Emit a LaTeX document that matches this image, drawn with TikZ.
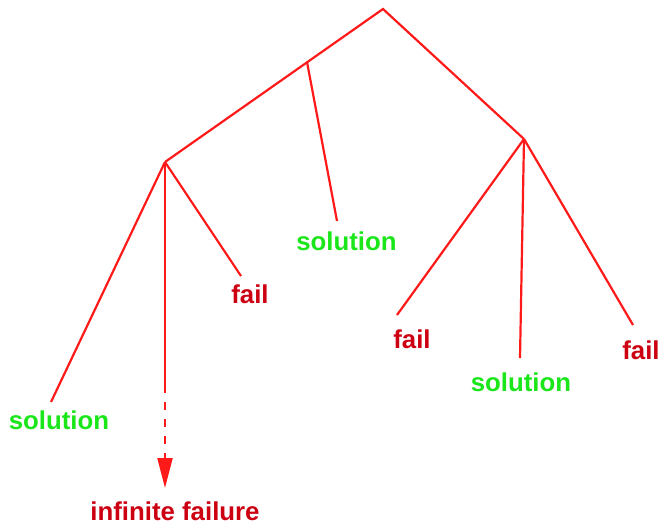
\documentclass[tikz,border=0pt]{standalone}
\usepackage{fontspec}
\setmainfont{Liberation Sans}
\usetikzlibrary{arrows.meta}
\definecolor{branchred}{HTML}{FF1A1A}
\definecolor{failred}{HTML}{CC0011}
\definecolor{solgreen}{HTML}{1AE61A}

\begin{document}
\begin{tikzpicture}[x=0.5pt, y=-0.5pt,
  branch/.style={draw=branchred, line width=1.1pt},
  leafok/.style={text=solgreen, font=\fontsize{12.9}{14}\selectfont\bfseries, anchor=base, inner sep=0pt},
  leafbad/.style={text=failred, font=\fontsize{12.9}{14}\selectfont\bfseries, anchor=base, inner sep=0pt},
  arr/.style={-{Triangle[length=15pt, width=7.5pt]}, draw=branchred, line width=1.1pt, dash pattern=on 4pt off 4.5pt}
]
\useasboundingbox (0,0) rectangle (662,525);
% tree points
\coordinate (root) at (383,9);
\coordinate (mid) at (307,62);
\coordinate (lt) at (165,162);
\coordinate (rt) at (524,139);
\coordinate (ltsol) at (51,402);
\coordinate (ltfail) at (241,276);
\coordinate (ltdown) at (165,385);
\coordinate (ltinf) at (165,488);
\coordinate (midsol) at (337,221);
\coordinate (rtfail1) at (397,315);
\coordinate (rtsol) at (520,358);
\coordinate (rtfail2) at (633,325);
% leaves
\node[leafok] (s1) at (59,429) {solution};
\node[leafbad] (inf) at (175,520) {infinite failure};
\node[leafbad] (f1) at (250,303) {fail};
\node[leafok] (s2) at (346.5,250) {solution};
\node[leafbad] (f2) at (412,348) {fail};
\node[leafok] (s3) at (521,391) {solution};
\node[leafbad] (f3) at (641,359) {fail};
% branches
\draw[branch] (lt) -- (root) -- (rt);
\draw[branch] (mid) -- (midsol);
\draw[branch] (lt) -- (ltsol);
\draw[branch] (lt) -- (ltfail);
\draw[branch] (lt) -- (ltdown);
\draw[arr] (ltdown) -- (ltinf);
\draw[branch] (rt) -- (rtfail1);
\draw[branch] (rt) -- (rtsol);
\draw[branch] (rt) -- (rtfail2);
\end{tikzpicture}
\end{document}
